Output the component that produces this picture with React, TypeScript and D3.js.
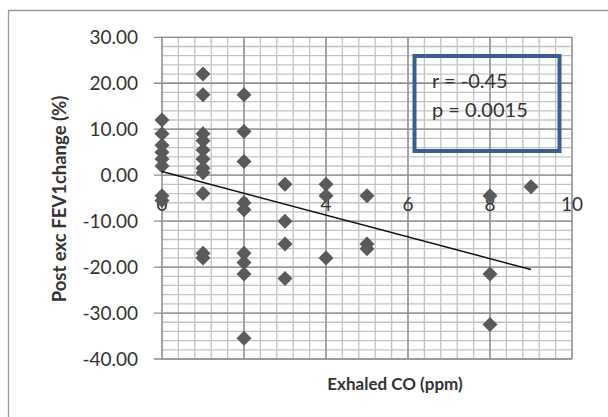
import React from "react";
import * as d3 from "d3";

const exhaledCO = [
  0, 0, 0, 0, 0, 0, 0, 0,
  1, 1, 1, 1, 1, 1, 1, 1, 1, 1, 1,
  2, 2, 2, 2, 2, 2, 2, 2, 2,
  3, 3, 3, 3,
  4, 4, 4,
  5, 5, 5,
  8, 8, 8,
  9,
];
const fev1Change = [
  12, 9, 6.5, 5, 3.5, 2, -4.5, -5.5,
  22, 17.5, 9, 7.5, 5.5, 3.5, 1.5, 0.5, -4, -17, -18,
  17.5, 9.5, 3, -6, -7.5, -17, -19, -21.5, -35.5,
  -2, -10, -15, -22.5,
  -2, -4.5, -18,
  -4.5, -15, -16,
  -4.5, -21.5, -32.5,
  -2.5,
];
const xTicks = [0, 2, 4, 6, 8, 10];
const yTicks = [30, 20, 10, 0, -10, -20, -30, -40];
const trendX = [0, 9];
const trendIntercept = 0.8;
const trendSlope = -2.37;
const statLines = ["r = -0.45", "p = 0.0015"];
const xTitle = "Exhaled CO (ppm)";
const yTitle = "Post exc FEV1change (%)";

export default function App() {
  const W = 608, H = 417;
  const x = d3.scaleLinear().domain([0, 10]).range([162, 572]);
  const y = d3.scaleLinear().domain([-40, 30]).range([359, 37.3]);
  const xMinor = d3.range(0, 10.001, 0.4);
  const yMinor = d3.range(-40, 30.001, 2);
  const font = "Lato, 'Open Sans', sans-serif";
  const diamond = (cx: number, cy: number, r: number) =>
    `M${cx},${cy - r}L${cx + r},${cy}L${cx},${cy + r}L${cx - r},${cy}Z`;
  const line = d3.line<number>().x((d) => x(d)).y((d) => y(trendIntercept + trendSlope * d));
  return (
    <svg width={W} height={H} style={{ position: "absolute", left: 0, top: 0, background: "#fff" }}>
      <rect x={0} y={0} width={W} height={H} fill="#fff" />
      <path d={`M8.5,${H + 5}V10.5H${W + 5}`} fill="none" stroke="#9a9a9a" strokeWidth={1.3} />
      {xMinor.map((v, i) => (
        <line key={"xm" + i} x1={x(v)} x2={x(v)} y1={y(30)} y2={y(-40)} stroke="#c4c4c4" strokeWidth={1.3} />
      ))}
      {yMinor.map((v, i) => (
        <line key={"ym" + i} x1={x(0)} x2={x(10)} y1={y(v)} y2={y(v)} stroke="#c4c4c4" strokeWidth={1.3} />
      ))}
      {xTicks.map((v) => (
        <line key={"xM" + v} x1={x(v)} x2={x(v)} y1={y(30)} y2={y(-40)} stroke="#8a8a8a" strokeWidth={1.3} />
      ))}
      {yTicks.map((v) => (
        <line key={"yM" + v} x1={x(0) - 8} x2={x(10)} y1={y(v)} y2={y(v)} stroke="#8a8a8a" strokeWidth={1.3} />
      ))}
      {yTicks.map((v) => (
        <text key={"yl" + v} x={138} y={y(v)} dy="0.35em" textAnchor="end" fontFamily={font} fontSize={19} fill="#333">
          {v.toFixed(2)}
        </text>
      ))}
      {xTicks.map((v) => (
        <text key={"xl" + v} x={x(v)} y={204} dy="0.35em" textAnchor="middle" fontFamily={font} fontSize={19} fill="#333">
          {v}
        </text>
      ))}
      {exhaledCO.map((v, i) => (
        <path key={"p" + i} d={diamond(x(v), y(fev1Change[i]), 7.5)} fill="#5a5a5a" />
      ))}
      <path d={line(trendX) || ""} fill="none" stroke="#111" strokeWidth={1.5} />
      <rect x={414.5} y={56} width={145} height={95} fill="none" stroke="#3a5f8f" strokeWidth={4} />
      {statLines.map((s, i) => (
        <text key={s} x={432} y={88 + i * 29} fontFamily={font} fontSize={20} fill="#333">
          {s}
        </text>
      ))}
      <text x={395} y={384} dy="0.35em" textAnchor="middle" fontFamily={font} fontSize={17} fontWeight="bold" fill="#333">
        {xTitle}
      </text>
      <text transform={`translate(66,199) rotate(-90)`} textAnchor="middle" fontFamily={font} fontSize={18.5} fontWeight="bold" fill="#333">
        {yTitle}
      </text>
    </svg>
  );
}
